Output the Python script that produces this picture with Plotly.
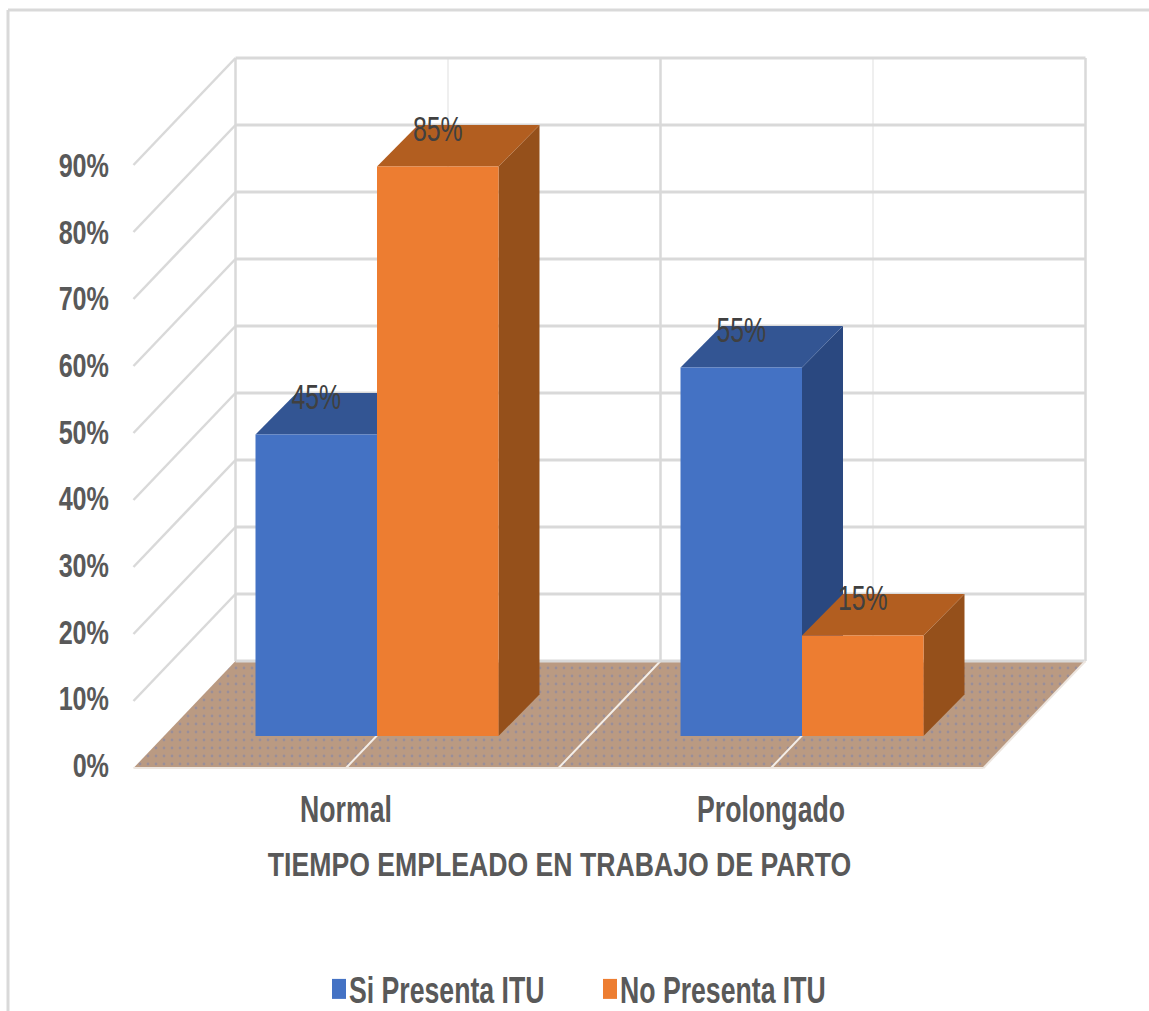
import plotly.graph_objects as go

# Chart data
categories = ["Normal", "Prolongado"]
series_names = ["Si Presenta ITU", "No Presenta ITU"]
si_presenta = [45, 55]
no_presenta = [85, 15]
tick_values = [0, 10, 20, 30, 40, 50, 60, 70, 80, 90]
tick_labels = ["0%", "10%", "20%", "30%", "40%", "50%", "60%", "70%", "80%", "90%"]

# Figure size and the scale shared by the bar plane
W, H = 1149, 1011
PX_PER_CAT = 425.0
PX_PER_PCT = 6.7
ORIGIN_X, ORIGIN_Y = 377.0, 736.0

x_range = [-ORIGIN_X / PX_PER_CAT, (W - ORIGIN_X) / PX_PER_CAT]
y_range = [(ORIGIN_Y - H) / PX_PER_PCT, ORIGIN_Y / PX_PER_PCT]

# Oblique projection offsets, in axis units, relative to the bars' front plane
BAR_DEPTH = (41 / PX_PER_CAT, 41.5 / PX_PER_PCT)
ROOM_FRONT = (-31 / PX_PER_CAT, -32 / PX_PER_PCT)
ROOM_BACK = (71 / PX_PER_CAT, 75 / PX_PER_PCT)
ROOM_LEFT, ROOM_RIGHT = -0.5, 1.5
BAR_WIDTH = 121.5 / PX_PER_CAT

# Colours and type
BLUE, BLUE_TOP, BLUE_SIDE = "#4472C4", "#335593", "#2A4880"
ORANGE, ORANGE_TOP, ORANGE_SIDE = "#ED7D31", "#B25E20", "#95501B"
GRID, GRID_SOFT = "#D9D9D9", "#EFEFEF"
TEXT, LABEL_TEXT = "#595959", "#404040"
SANS = "Liberation Sans"

# All labels are set in a horizontally condensed cut of the sans face;
# the legend also gets taller swatches and sits a little lower than plotly allows
CONDENSE_TEXT = """
var gd = document.querySelector('.plotly-graph-div');
[['.x3tick text, .y3tick text, .legendtext', 0.74],
 ['.textpoint text', 0.71],
 ['.annotation-text', 0.807]].forEach(function (rule) {
  gd.querySelectorAll(rule[0]).forEach(function (t) {
    t.setAttribute('textLength', t.getComputedTextLength() * rule[1]);
    t.setAttribute('lengthAdjust', 'spacingAndGlyphs');
  });
});
gd.querySelectorAll('.legendtext').forEach(function (t) { t.setAttribute('x', 30); });
gd.querySelectorAll('.legendpoints path').forEach(function (p) {
  p.setAttribute('d', 'M7,10H-7V-10H7Z');
});
var legend = gd.querySelector('.legend');
legend.setAttribute('transform', legend.getAttribute('transform') + ' translate(0,8)');
legend.style.overflow = 'visible';
"""


def at(c, v, offset=(0, 0)):
    return c + offset[0], v + offset[1]


def polygon(points, color, pattern=None):
    xs = [p[0] for p in points] + [points[0][0]]
    ys = [p[1] for p in points] + [points[0][1]]
    return go.Scatter(
        x=xs, y=ys, mode="lines", fill="toself", fillcolor=color,
        fillpattern=pattern, line=dict(width=0), hoverinfo="skip", showlegend=False,
    )


def segments(pairs, color, width):
    xs, ys = [], []
    for a, b in pairs:
        xs += [a[0], b[0], None]
        ys += [a[1], b[1], None]
    return go.Scatter(
        x=xs, y=ys, mode="lines", line=dict(color=color, width=width),
        hoverinfo="skip", showlegend=False,
    )


fig = go.Figure()

# Floor
fig.add_trace(polygon(
    [at(ROOM_LEFT, 0, ROOM_FRONT), at(ROOM_RIGHT, 0, ROOM_FRONT),
     at(ROOM_RIGHT, 0, ROOM_BACK), at(ROOM_LEFT, 0, ROOM_BACK)],
    "#BA9A82",
    dict(shape=".", fgcolor="#7A82AC", bgcolor="#BA9A82", size=8, solidity=0.1),
))

# Floor division lines
fig.add_trace(segments(
    [(at(c, 0, ROOM_FRONT), at(c, 0, ROOM_BACK)) for c in (0, 0.5, 1)], "#F4EEE8", 2,
))

# Back wall and left wall grid
top = tick_values[-1]
fig.add_trace(segments(
    [(at(c, 0, ROOM_BACK), at(c, top, ROOM_BACK)) for c in (0, 1)], GRID_SOFT, 2,
))
fig.add_trace(segments(
    [(at(c, 0, ROOM_BACK), at(c, top, ROOM_BACK)) for c in (ROOM_LEFT, 0.5, ROOM_RIGHT)], GRID, 2.5,
))
fig.add_trace(segments(
    [(at(ROOM_LEFT, v, ROOM_BACK), at(ROOM_RIGHT, v, ROOM_BACK)) for v in tick_values], GRID, 3,
))
fig.add_trace(segments(
    [(at(ROOM_LEFT, v, ROOM_BACK), at(ROOM_LEFT, v, ROOM_FRONT)) for v in tick_values[1:]], GRID, 2.5,
))
fig.add_trace(segments(
    [(at(ROOM_LEFT, 0, ROOM_FRONT), at(ROOM_RIGHT, 0, ROOM_FRONT)),
     (at(ROOM_RIGHT, 0, ROOM_FRONT), at(ROOM_RIGHT, 0, ROOM_BACK))], "#EDE6E0", 2,
))


def add_depth_faces(center, value, top_color, side_color):
    left, right = center - BAR_WIDTH / 2, center + BAR_WIDTH / 2
    fig.add_trace(polygon(
        [at(right, 0), at(right, value), at(right, value, BAR_DEPTH), at(right, 0, BAR_DEPTH)],
        side_color,
    ))
    fig.add_trace(polygon(
        [at(left, value), at(right, value), at(right, value, BAR_DEPTH), at(left, value, BAR_DEPTH)],
        top_color,
    ))


# Top and side faces, painted back to front
for i in range(len(categories)):
    add_depth_faces(i - BAR_WIDTH / 2, si_presenta[i], BLUE_TOP, BLUE_SIDE)
    add_depth_faces(i + BAR_WIDTH / 2, no_presenta[i], ORANGE_TOP, ORANGE_SIDE)

# Front faces sit on an overlaid subplot so they stay above the depth faces
positions = list(range(len(categories)))
for name, values, color in [(series_names[0], si_presenta, BLUE), (series_names[1], no_presenta, ORANGE)]:
    fig.add_trace(go.Bar(
        x=positions, y=values, name=name, marker=dict(color=color, line=dict(width=0)),
        xaxis="x2", yaxis="y2", hoverinfo="skip",
    ))

# Value labels floating over the top faces
label_x = [i - BAR_WIDTH / 2 for i in positions] + [i + BAR_WIDTH / 2 for i in positions]
label_v = si_presenta + no_presenta
fig.add_trace(go.Scatter(
    x=label_x, y=[v + 5.1 for v in label_v], mode="text",
    text=[f"{v}%" for v in label_v],
    textfont=dict(family=SANS, size=35, color=LABEL_TEXT),
    xaxis="x2", yaxis="y2", hoverinfo="skip", showlegend=False,
))

# Carrier trace for the axes that hold the tick labels
fig.add_trace(go.Scatter(
    x=positions, y=[tick_values[0], tick_values[-1]], mode="lines",
    line=dict(color="rgba(0,0,0,0)", width=0), xaxis="x3", yaxis="y3",
    hoverinfo="skip", showlegend=False,
))

hidden = dict(visible=False, fixedrange=True)

fig.update_layout(
    width=W, height=H, autosize=False,
    margin=dict(l=0, r=0, t=0, b=0, pad=0),
    paper_bgcolor="white", plot_bgcolor="white",
    barmode="group", bargap=1 - 2 * BAR_WIDTH, bargroupgap=0,
    xaxis=dict(range=x_range, domain=[0, 1], **hidden),
    yaxis=dict(range=y_range, domain=[0, 1], **hidden),
    xaxis2=dict(range=x_range, overlaying="x", **hidden),
    yaxis2=dict(range=y_range, overlaying="y", **hidden),
    xaxis3=dict(
        range=[x_range[0] - ROOM_FRONT[0], x_range[1] - ROOM_FRONT[0]],
        overlaying="x", anchor="free", position=(H - 785) / H, side="bottom",
        tickmode="array", tickvals=positions, ticktext=categories,
        tickfont=dict(family=SANS, size=36, color=TEXT, weight=700),
        showgrid=False, zeroline=False, showline=False, ticks="",
    ),
    yaxis3=dict(
        range=[(765 - H) / 6.667, 765 / 6.667],
        overlaying="y", anchor="free", position=109 / W, side="left",
        tickmode="array", tickvals=tick_values, ticktext=tick_labels,
        tickfont=dict(family=SANS, size=34, color=TEXT, weight=700),
        showgrid=False, zeroline=False, showline=False, ticks="",
    ),
    legend=dict(
        orientation="h", x=319 / W, xanchor="left", y=0, yanchor="bottom",
        entrywidth=226, entrywidthmode="pixels",
        font=dict(family=SANS, size=36, color=TEXT, weight=700), bgcolor="rgba(0,0,0,0)",
    ),
    annotations=[dict(
        text="TIEMPO EMPLEADO EN TRABAJO DE PARTO", xref="paper", yref="paper",
        x=559 / W, y=(H - 864) / H, xanchor="center", yanchor="middle", showarrow=False,
        font=dict(family=SANS, size=33, color=TEXT, weight=700),
    )],
    shapes=[
        dict(type="line", xref="paper", yref="paper", x0=8 / W, x1=1, y0=(H - 10) / H, y1=(H - 10) / H,
             line=dict(color=GRID, width=3), layer="below"),
        dict(type="line", xref="paper", yref="paper", x0=8 / W, x1=8 / W, y0=0, y1=(H - 10) / H,
             line=dict(color=GRID, width=3), layer="below"),
    ],
)

fig.write_html("out.html", post_script=CONDENSE_TEXT)
